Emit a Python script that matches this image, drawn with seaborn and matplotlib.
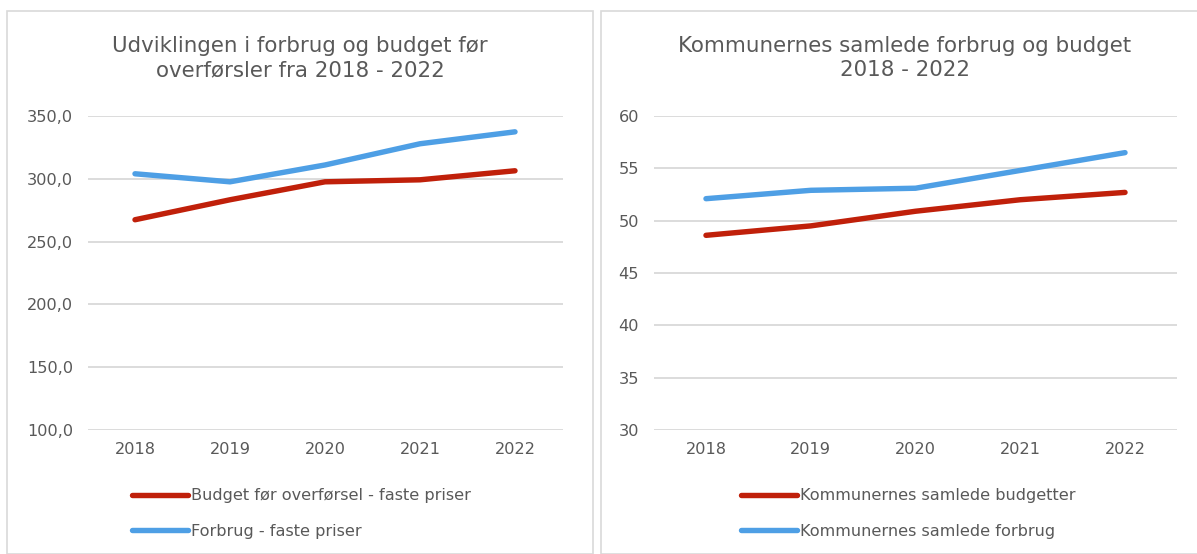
import matplotlib
matplotlib.use("Agg")
import matplotlib.pyplot as plt
import pandas as pd
import seaborn as sns
from matplotlib.patches import Rectangle
from matplotlib.ticker import FuncFormatter

years = ["2018", "2019", "2020", "2021", "2022"]

# left panel: overforsler, faste priser
budget_overf = [267.4, 283.3, 297.6, 299.2, 306.4]
forbrug_faste = [304.0, 297.6, 311.0, 327.9, 337.4]

# right panel: kommunernes samlede
samlede_budget = [48.6, 49.5, 50.9, 52.0, 52.7]
samlede_forbrug = [52.1, 52.9, 53.1, 54.8, 56.5]

RED = "#C0200A"
BLUE = "#4E9FE5"
GRID = "#D9D9D9"
TEXT = "#595959"


def long_df(a, b, name_a, name_b):
    return pd.DataFrame({
        "year": years * 2,
        "value": a + b,
        "serie": [name_a] * len(a) + [name_b] * len(b),
    })


def draw(ax, df, names, ylim, step, fmt, leg_x):
    sns.lineplot(data=df, x="year", y="value", hue="serie", hue_order=names,
                 palette=[RED, BLUE], linewidth=3.9, ax=ax, sort=False)
    ax.set_xlim(-0.5, 4.5)
    ax.set_ylim(*ylim)
    ax.set_yticks(range(ylim[0], ylim[1] + 1, step))
    ax.yaxis.set_major_formatter(FuncFormatter(fmt))
    ax.grid(axis="y", color=GRID, linewidth=1.3)
    ax.grid(axis="x", visible=False)
    for s in ax.spines.values():
        s.set_visible(False)
    ax.tick_params(length=0, colors=TEXT, labelsize=11.6, pad=10.5)
    ax.tick_params(axis="x", pad=9)
    ax.set_xlabel("")
    ax.set_ylabel("")
    handles, labels = ax.get_legend_handles_labels()
    ax.legend(handles, labels, loc="upper left", bbox_to_anchor=(leg_x, 0.13),
              bbox_transform=ax.figure.transFigure, frameon=False,
              fontsize=11.6, labelcolor=TEXT, handlelength=3.45,
              handletextpad=0.2, labelspacing=1.25, borderaxespad=0)


sns.set_theme(style="white")
plt.rcParams["font.family"] = ["DejaVu Sans"]

fig = plt.figure(figsize=(11.97, 5.54), dpi=100)
W, H = 1197, 554

# panel borders
fig.patches.append(Rectangle((7 / W, 0), 586 / W, 1 - 11 / H, transform=fig.transFigure,
                             fill=False, edgecolor=GRID, linewidth=1.2))
fig.patches.append(Rectangle((601 / W, 0), 600 / W, 1 - 11 / H, transform=fig.transFigure,
                             fill=False, edgecolor=GRID, linewidth=1.2))

ax1 = fig.add_axes([87.5 / W, 1 - 430 / H, 475 / W, 314 / H])
ax2 = fig.add_axes([653.6 / W, 1 - 430 / H, 523.8 / W, 314 / H])

names1 = ["Budget før overførsel - faste priser", "Forbrug - faste priser"]
names2 = ["Kommunernes samlede budgetter", "Kommunernes samlede forbrug"]

draw(ax1, long_df(budget_overf, forbrug_faste, *names1), names1, (100, 350), 50,
     lambda v, p: f"{v:.1f}".replace(".", ","), 126 / W)
draw(ax2, long_df(samlede_budget, samlede_forbrug, *names2), names2, (30, 60), 5,
     lambda v, p: f"{v:.0f}", 735 / W)

fig.text(300 / W, 1 - 58 / H, "Udviklingen i forbrug og budget før\noverførsler fra 2018 - 2022",
         ha="center", va="center", fontsize=15.4, color=TEXT, linespacing=1.3)
fig.text(905 / W, 1 - 58 / H, "Kommunernes samlede forbrug og budget\n2018 - 2022",
         ha="center", va="center", fontsize=15.4, color=TEXT, linespacing=1.3)

fig.savefig("out.png", dpi=100)
